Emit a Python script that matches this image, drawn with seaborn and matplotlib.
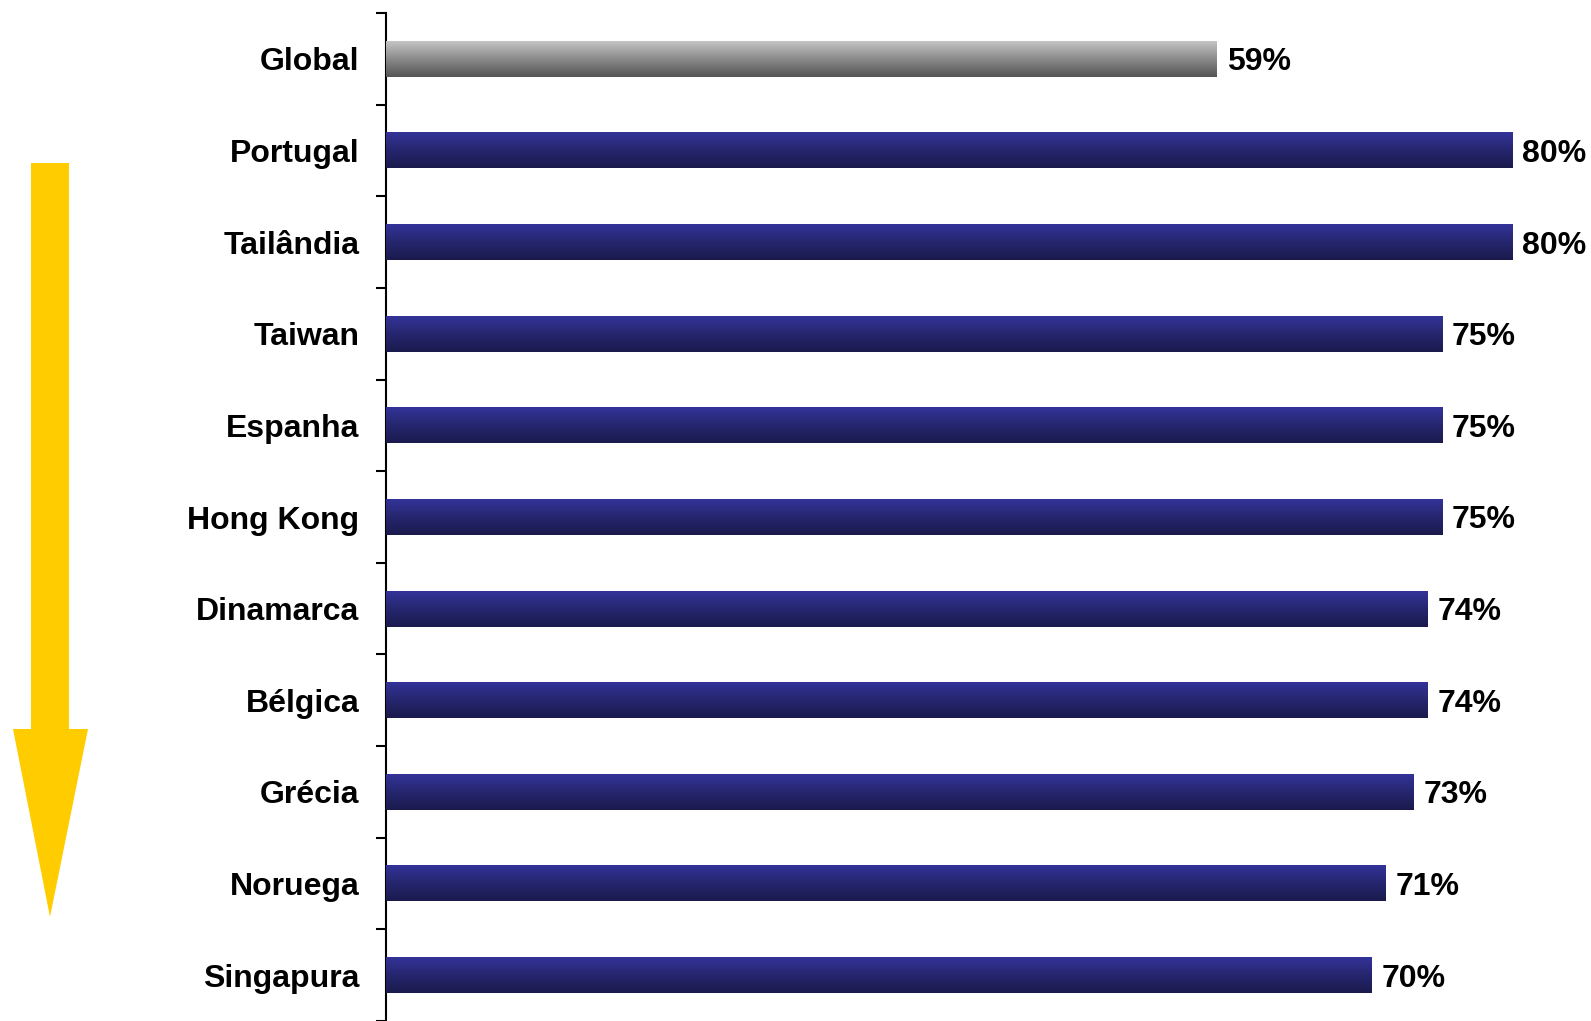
import numpy as np
import pandas as pd
import matplotlib
matplotlib.use('Agg')
import matplotlib.pyplot as plt
import seaborn as sns
from matplotlib.colors import LinearSegmentedColormap
from matplotlib.patches import Polygon

paises = ['Global', 'Portugal', 'Tailândia', 'Taiwan', 'Espanha', 'Hong Kong',
          'Dinamarca', 'Bélgica', 'Grécia', 'Noruega', 'Singapura']
valores = [59, 80, 80, 75, 75, 75, 74, 74, 73, 71, 70]

df = pd.DataFrame({'pais': paises, 'valor': valores})

sns.set_style('white')
plt.rcParams['font.family'] = ['Liberation Sans', 'DejaVu Sans']

fig = plt.figure(figsize=(15.91, 10.21), dpi=100)
ax = fig.add_axes([386 / 1591, 0, 1 - 386 / 1591, 1 - 13 / 1021])

sns.barplot(data=df, x='valor', y='pais', orient='h', width=0.39,
            color='#2a2a80', ax=ax)

azul = LinearSegmentedColormap.from_list('azul', ['#333399', '#26266f', '#1a1a4d'])
cinza = LinearSegmentedColormap.from_list('cinza', ['#c4c4c4', '#8a8a8a', '#555555'])
grad = np.linspace(0, 1, 100).reshape(-1, 1)

for i, p in enumerate(ax.patches):
    x0, y0 = p.get_x(), p.get_y()
    w, h = p.get_width(), p.get_height()
    cmap = cinza if i == 0 else azul
    # eixo y invertido: y0 fica em cima
    ax.imshow(grad, cmap=cmap, aspect='auto', extent=[x0, x0 + w, y0 + h, y0],
              origin='upper', zorder=3)
    p.set_visible(False)
    ax.text(x0 + w + 0.7, y0 + h / 2, f'{valores[i]}%', va='center_baseline',
            ha='left', fontsize=23, fontweight='bold', color='black')

ax.set_xlim(0, (1591 - 386) / 14.08)
ax.set_ylim(len(paises) - 0.5, -0.5)
ax.set_xlabel('')
ax.set_ylabel('')
ax.set_xticks([])

ax.set_yticks(range(len(paises)))
ax.set_yticklabels(paises, fontsize=23, fontweight='bold', color='black')
ax.tick_params(axis='y', which='major', length=0, pad=19)
ax.set_yticks(np.arange(-0.5, len(paises) - 0.4, 1), minor=True)
ax.tick_params(axis='y', which='minor', left=True, length=7, width=1.5,
               color='black', direction='out')

for s in ['top', 'right', 'bottom']:
    ax.spines[s].set_visible(False)
ax.spines['left'].set_color('black')
ax.spines['left'].set_linewidth(1.5)

# seta amarela
W, H = 1591, 1021
seta = [(31, 163), (69, 163), (69, 729), (88, 729), (50, 917),
        (13, 729), (31, 729)]
seta = [(x / W, 1 - y / H) for x, y in seta]
fig.patches.append(Polygon(seta, closed=True, facecolor='#ffcc00',
                           edgecolor='none', transform=fig.transFigure))

fig.savefig('out.png', dpi=100)
